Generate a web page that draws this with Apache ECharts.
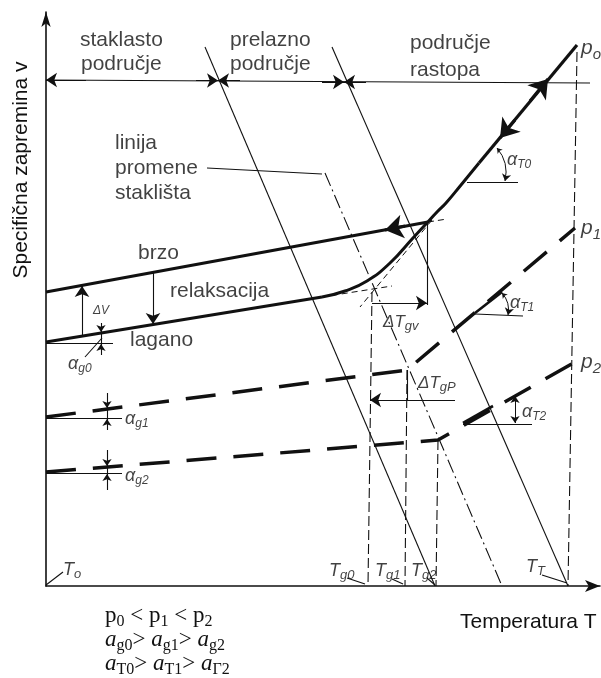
<!DOCTYPE html>
<html><head><meta charset="utf-8">
<script src="https://cdn.jsdelivr.net/npm/echarts@6/dist/echarts.min.js"></script>
<style>html,body{margin:0;padding:0;background:#fff}#c{width:601px;height:678px}</style>
</head><body><div id="c"></div>
<script>
// ===== data in diagram units (T across, v up) =====
const meltP0 = [[531,541],[433,423]];
const curveP0 = [[433,423],[415,401],[400,383],[391,374],[379,361],[367,348],[344,323],[321,305],[299,295],[276,289]];
const laganoLine = [[0,244],[276,289]];
const brzoLine = [[0,294],[382,364]];
const p1Line = [[0,169],[361,216],[529,358]];
const p2Line = [[0,114],[392,146],[529,224]];
const extensions = [[[386,366],[314,279]],[[276,289],[346,300]],[[382,364],[401,367]]];
const thinLines = [
  [[159,539],[389,0]], [[286,539],[522,0]],           // region boundaries
  [[161,418],[276,412]],                              // leader "linija promene staklišta"
  [[0,506],[544,503]],                                // region dimension line
  [[381,364],[381,281]], [[361,216],[361,186]],        // ΔTgv, ΔTgP verticals
  [[0,243],[67,243]], [[55,263],[55,231]], [[39,229],[56,248]],   // αg0
  [[0,168],[76,168]], [[61,193],[61,156]],            // αg1
  [[0,113],[76,113]], [[61,136],[61,96]],             // αg2
  [[421,404],[472,404]],                              // αT0
  [[429,272],[477,270]],                              // αT1
  [[417,162],[486,162]],                              // αT2
  [[0,1],[17,14]], [[301,8],[319,2]], [[346,7],[357,2]], [[381,8],[389,1]], [[496,11],[521,3]]  // T leaders
];
const angleLegs = [[[429,273],[456,294]], [[417,163],[447,180]]];
const dashDot = [[279,413],[456,0]];
const verticals = [[[531,534],[522,0]],[[326,294],[322,0]],[[361,216],[359,0]],[[392,146],[390,0]]];
const dimArrows = [
  [[40,506],[0,506]], [[150,505.5],[172,505.5]], [[194,505.5],[172,505.5]],
  [[276,504],[298,504]], [[320,504],[298,504]],
  [[326,283],[381,283]], [[409,186],[324,186]],
  [[36,250],[36,300]], [[107,313],[107,262]]
];
const smallArrows = [
  [[55,263],[55,254]], [[55,231],[55,242]],
  [[61,193],[61,178]], [[61,156],[61,167]],
  [[61,136],[61,120]], [[61,96],[61,112]],
  [[469,190],[469,163]], [[469,163],[469,190]]
];
const arcArrows = [[[451,438],[459,405]], [[456,293],[462,271]]];
const flowArrows = [[[484,485],[502,507]], [[469,466],[454,448]], [[359,360],[339,356]]];

const textLabels = [
  ['staklasto',[34,546]],['područje',[35,522]],['prelazno',[184,546]],['područje',[184,522]],
  ['područje',[364,543]],['rastopa',[364,516]],['linija',[69,443]],['promene',[69,418]],['staklišta',[69,393]],
  ['brzo',[92,333]],['relaksacija',[124,295]],['lagano',[84,246]]
];
const pLabels = [['p','o',[535,538]],['p','1',[535,358]],['p','2',[535,224]]];
const tLabels = [['T','o',[17,16]],['T','g0',[283,15]],['T','g1',[329,15]],['T','g2',[365,15]],['T','T',[480,19]]];
const alphaLabels = [['α','T0',[461,426]],['α','T1',[464,283]],['α','T2',[476,174]],['α','g0',[22,222]],['α','g1',[79,167]],['α','g2',[79,110]]];
const deltaLabels = [['ΔT','gv',[337,264]],['ΔT','gP',[372,203]]];
const dvLabel = [['ΔV','',[47,275]]];

// ===== chart =====
const K = '#111';
function lineSeries(data, width, type, smooth){
  return {type:'line', data, showSymbol:false, symbol:'none', smooth:smooth||false, silent:true,
    lineStyle:{color:K, width, type:type||'solid'}, z:3};
}
function linesSeries(list, width, symbol, size, curve, type){
  return {type:'lines', coordinateSystem:'cartesian2d', silent:true, z:4,
    symbol, symbolSize:size,
    lineStyle:{color:K, width, curveness:curve||0, type:type||'solid', opacity:1},
    data:list.map(c=>({coords:c}))};
}
const FF = "'Liberation Sans', Arial, sans-serif";
function labelSeries(list, fmt, base){
  return {type:'scatter', symbolSize:0, silent:true, z:6, clip:false,
    data:list.map(l=>({value:l[l.length-1], label:{formatter:fmt(l)}})),
    label:Object.assign({show:true, position:'right', distance:0, color:K, fontFamily:FF}, base)};
}
const subRich = (m, s, pad) => ({
  m:{fontSize:m, fontStyle:'italic', fontFamily:FF, color:K},
  s:{fontSize:s, fontStyle:'italic', fontFamily:FF, color:K, padding:[pad,0,0,0]}
});
const sub = l => '{m|'+l[0]+'}' + (l[1] ? '{s|'+l[1]+'}' : '');

const series = [
  lineSeries(meltP0, 3.2),
  lineSeries(curveP0, 3, 'solid', 0.5),
  lineSeries(laganoLine, 3.2),
  lineSeries(brzoLine, 3.2),
  lineSeries(p1Line, 3.5, [30,17]),
  lineSeries(p2Line, 3.5, [30,17]),
  linesSeries(extensions, 1, 'none', 0, 0, [6,4]),
  linesSeries(thinLines, 1.1, 'none', 0),
  linesSeries(angleLegs, 2.6, 'none', 0),
  linesSeries([dashDot], 1.1, 'none', 0, 0, [14,4,2,4]),
  linesSeries(verticals, 1.1, 'none', 0, 0, [10,4]),
  linesSeries(dimArrows, 1.1, ['none','arrow'], [7,11]),
  linesSeries(smallArrows, 1, ['none','arrow'], [5,7]),
  linesSeries(arcArrows, 1, ['arrow','arrow'], [5,7], 0.25),
  linesSeries(flowArrows, 3, ['none','arrow'], [12,18]),
  labelSeries(textLabels, l=>l[0], {fontSize:21}),
  labelSeries(pLabels, sub, {rich:subRich(21,15,14)}),
  labelSeries(tLabels, sub, {rich:subRich(18,13,9)}),
  labelSeries(alphaLabels, sub, {rich:subRich(18,12,9)}),
  labelSeries(deltaLabels, sub, {rich:subRich(17,13,9)}),
  labelSeries(dvLabel, sub, {rich:subRich(12,8,0)})
];

const FS = "'Liberation Serif', 'Times New Roman', serif";
const formRich = {
  n:{fontSize:23, fontFamily:FS, color:K},
  i:{fontSize:23, fontFamily:FS, fontStyle:'italic', color:K},
  s:{fontSize:16, fontFamily:FS, color:K, padding:[13,0,0,0]}
};
const formulas = [
  '{n|p}{s|0}{n| < p}{s|1}{n| < p}{s|2}',
  '{i|a}{s|g0}{n|> }{i|a}{s|g1}{n|> }{i|a}{s|g2}',
  '{i|a}{s|T0}{n|> }{i|a}{s|T1}{n|> }{i|a}{s|Γ2}'
];

const chart = echarts.init(document.getElementById('c'), null, {renderer:'canvas'});
chart.setOption({
  backgroundColor:'#fff',
  animation:false,
  grid:{left:46, right:1, top:12, bottom:92},
  xAxis:{type:'value', min:0, max:554, splitLine:{show:false}, axisTick:{show:false}, axisLabel:{show:false},
    axisLine:{symbol:['none','arrow'], symbolSize:[9,15], lineStyle:{color:K, width:1.6}}},
  yAxis:{type:'value', min:0, max:574, splitLine:{show:false}, axisTick:{show:false}, axisLabel:{show:false},
    axisLine:{symbol:['none','arrow'], symbolSize:[7,15], lineStyle:{color:K, width:1.6}}},
  series,
  graphic:[
    {type:'text', x:21, y:170, rotation:Math.PI/2, style:{text:'Specifična zapremina v', fill:K, font:"21px "+FF, align:'center', verticalAlign:'middle'}},
    {type:'text', x:460, y:622, style:{text:'Temperatura T', fill:K, font:"21px "+FF, align:'left', verticalAlign:'middle'}},
    ...formulas.map((t,k)=>({type:'text', x:105, y:601+k*24, style:{text:t, rich:formRich, fill:K, align:'left', verticalAlign:'top'}}))
  ]
});
</script></body></html>
